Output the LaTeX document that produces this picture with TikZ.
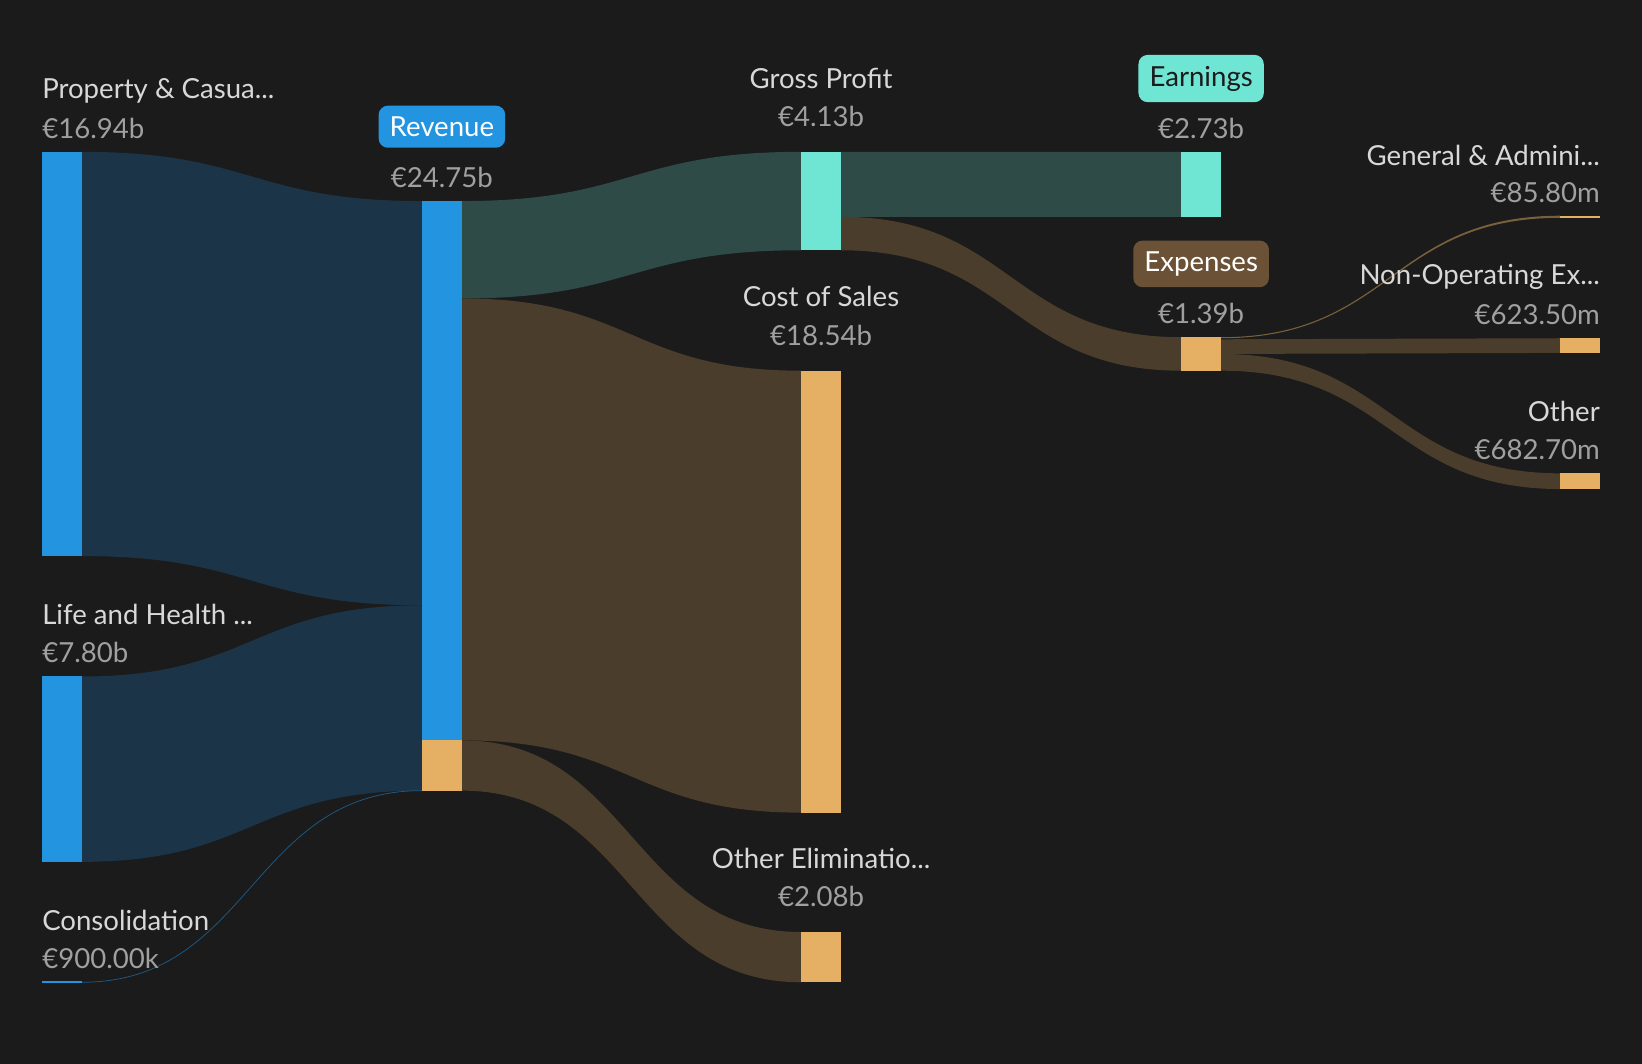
\documentclass[tikz,border=0pt]{standalone}
\usepackage{fontspec}
\setmainfont{Lato}
\usetikzlibrary{positioning}
\definecolor{bgc}{HTML}{1B1B1B}
\definecolor{mblue}{HTML}{2394E0}
\definecolor{fblue}{HTML}{1C3448}
\definecolor{mteal}{HTML}{6EE6D3}
\definecolor{fteal}{HTML}{2E4B47}
\definecolor{morange}{HTML}{E5B064}
\definecolor{fbrown}{HTML}{4A3D2B}
\definecolor{mbox}{HTML}{6B5236}
\definecolor{ltext}{HTML}{D8D8D8}
\definecolor{vtext}{HTML}{A0A0A0}
\tikzset{lbl/.style = {text=ltext, font=\fontsize{15}{17}\selectfont, inner sep=0},
         val/.style = {text=vtext, font=\fontsize{15}{17}\selectfont, inner sep=0},
         tag/.style = {lbl, rounded corners=5pt, inner xsep=6pt, inner ysep=6pt}}
% flow from x1 [a1,a2] to x2 [b1,b2]
\newcommand\flow[7]{%
  \fill [#7] (#1,#2) .. controls ({(#1+#4)/2},#2) and ({(#1+#4)/2},#5) .. (#4,#5)
    -- (#4,#6) .. controls ({(#1+#4)/2},#6) and ({(#1+#4)/2},#3) .. (#1,#3) -- cycle;}
\begin{document}
\begin{tikzpicture}[x=0.02cm, y=-0.02cm]
    \fill [bgc] (0,0) rectangle (1568,1016);

    \flow{78}{145}{531}{403}{192}{578}{fblue}
    \flow{78}{646}{823}{403}{578}{755}{fblue}
    \draw [fblue!60!mblue, line width=0.4pt] (78,938) .. controls (240,938) and (240,755) .. (403,755);
    \flow{441}{192}{285}{765}{145}{239}{fteal}
    \flow{441}{285}{707}{765}{354}{776}{fbrown}
    \flow{441}{707}{755}{765}{890}{938}{fbrown}
    \flow{803}{145}{207}{1128}{145}{207}{fteal}
    \flow{803}{207}{239}{1128}{322}{354}{fbrown}
    \flow{1166}{322}{323}{1490}{206}{208}{fbrown!70!morange}
    \flow{1166}{324}{338}{1490}{323}{337}{fbrown}
    \flow{1166}{338}{354}{1490}{452}{467}{fbrown}

    \foreach \xa/\ya/\yb/\c in {40/145/531/mblue, 40/646/823/mblue, 40/937/939/mblue,
        403/192/707/mblue, 403/707/755/morange, 765/145/239/mteal, 765/354/776/morange,
        765/890/938/morange, 1128/145/207/mteal, 1128/322/354/morange,
        1490/206/208/morange, 1490/323/337/morange, 1490/452/467/morange} {
      \fill [\c] (\xa,\ya) rectangle (\xa+38,\yb);
    }

    \node [lbl, anchor=west] (pc) at (40,87) {Property \& Casua...};
    \node [val, anchor=west] (pcv) at (40,123) {€16.94b};
    \node [lbl, anchor=west] (lh) at (40,587) {Life and Health ...};
    \node [val, anchor=west] (lhv) at (40,623) {€7.80b};
    \node [lbl, anchor=west] (co) at (40,879) {Consolidation};
    \node [val, anchor=west] (cov) at (40,915) {€900.00k};
    \node [tag, fill=mblue, text=white] (rev) at (422,121) {Revenue};
    \node [val] (revv) at (422,169) {€24.75b};
    \node [lbl] (gp) at (784,75) {Gross Profit};
    \node [val] (gpv) at (784,111) {€4.13b};
    \node [lbl] (cs) at (784,283) {Cost of Sales};
    \node [val] (csv) at (784,320) {€18.54b};
    \node [lbl] (oe) at (784,820) {Other Eliminatio...};
    \node [val] (oev) at (784,856) {€2.08b};
    \node [tag, fill=mteal, text=bgc] (ea) at (1147,75) {Earnings};
    \node [val] (eav) at (1147,123) {€2.73b};
    \node [tag, fill=mbox, text=white] (ex) at (1147,252) {Expenses};
    \node [val] (exv) at (1147,299) {€1.39b};
    \node [lbl, anchor=east] (ga) at (1528,148) {General \& Admini...};
    \node [val, anchor=east] (gav) at (1528,184) {€85.80m};
    \node [lbl, anchor=east] (no) at (1528,264) {Non-Operating Ex...};
    \node [val, anchor=east] (nov) at (1528,300) {€623.50m};
    \node [lbl, anchor=east] (ot) at (1528,393) {Other};
    \node [val, anchor=east] (otv) at (1528,429) {€682.70m};
\end{tikzpicture}
\end{document}
